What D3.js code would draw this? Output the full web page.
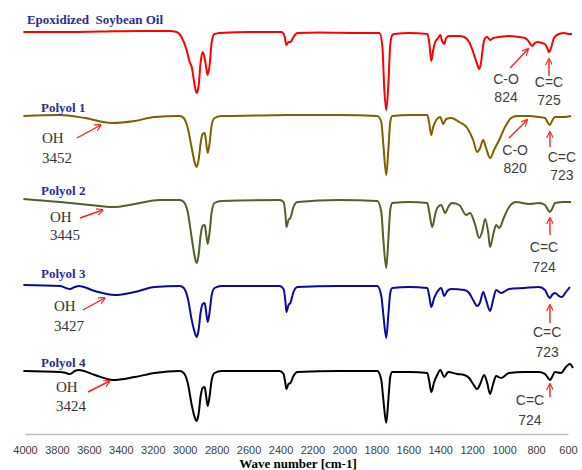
<!DOCTYPE html>
<meta charset="utf-8">
<style>
body { margin: 0; background: #fff; }
svg { display: block; }
.name { font: bold 13px "Liberation Serif", "Times New Roman", serif; fill: #2b2b9c; }
.oh { font: 15px "Liberation Serif", "Times New Roman", serif; fill: #333; }
.grp { font: 14px "Liberation Sans Narrow", "Liberation Sans", sans-serif; fill: #404040; }
.axis text { font: 11px "Liberation Sans", sans-serif; fill: #404040; }
.axis path { stroke: #bfbfbf; stroke-width: 1.3; }
.title { font: bold 13px "Liberation Serif", "Times New Roman", serif; fill: #000; }
.arrow { stroke: #ff2020; stroke-width: 1.4; fill: none; }
</style>
<svg width="582" height="470"></svg>
<script src="https://cdnjs.cloudflare.com/ajax/libs/d3/7.8.5/d3.min.js"></script>
<script>
// FTIR spectra, [wavenumber cm-1, relative transmittance]
var esoData = [[4010,99],[3780,99],[3530,99.5],[3280,100],[3095,100],[3050,99],[3020,94],[2988,81],[2969,69],[2956,64],
  [2938,46],[2925,38],[2913,45],[2900,69],[2888,79],[2875,73],[2863,61],[2856,56],[2844,66],[2831,89],[2813,97],[2781,98],
  [2594,99],[2394,99],[2375,95],[2363,86],[2350,89],[2338,89],[2319,94],[2294,98],[2156,98.5],[1906,98],[1781,98],
  [1763,86],[1750,41],[1738,21],[1725,46],[1713,86],[1700,96],[1688,97],[1594,98],[1481,97],[1469,89],[1456,70],
  [1444,81],[1431,89],[1413,93],[1400,96],[1388,90],[1375,87],[1363,93],[1344,95],[1281,95],[1250,94],[1219,89],
  [1194,79],[1169,67],[1156,62],[1144,69],[1131,86],[1119,93],[1106,94],[1088,91],[1069,93],[1031,94],[969,95],
  [906,94],[869,93],[844,89],[825,85],[813,87],[794,89],[763,88],[744,87],[725,81],[719,79],[706,83],[688,93],
  [656,97],[625,98],[594,97],[575,97]];

var polyol1Data = [[4010,98],[3780,99],[3625,96],[3456,91],[3313,93],[3188,97],[3031,98],[3006,96],[2981,86],[2956,66],
  [2938,52],[2925,47],[2913,54],[2900,71],[2888,80],[2875,81],[2869,76],[2856,61],[2844,71],[2831,89],[2813,96],
  [2769,98],[2531,98.5],[2363,99],[2031,99],[1794,98],[1769,92],[1756,69],[1738,39],[1725,64],[1713,92],[1700,98],
  [1594,99],[1481,99],[1469,91],[1456,79],[1444,87],[1425,94],[1400,97],[1381,90],[1363,95],[1331,96],[1281,92],
  [1231,86],[1194,74],[1169,62],[1150,66],[1131,74],[1113,66],[1088,56],[1063,64],[1031,74],[994,87],[956,96],
  [919,98],[844,98],[781,97],[744,96],[725,91],[713,89],[700,93],[681,97],[625,97],[581,98]];

var polyol2Data = [[4010,100],[3780,97],[3594,94],[3450,92],[3313,95],[3156,99],[3031,99],[3006,97],[2981,87],[2956,61],
  [2938,43],[2925,36],[2913,44],[2900,64],[2888,73],[2875,74],[2869,69],[2856,55],[2844,67],[2831,87],[2813,96],
  [2769,98],[2406,99],[2381,97],[2369,84],[2363,72],[2350,79],[2338,81],[2319,92],[2294,97],[2031,99],[1794,98],
  [1769,87],[1756,59],[1738,31],[1725,59],[1713,89],[1700,96],[1594,97],[1481,96],[1469,87],[1450,72],[1431,85],
  [1419,91],[1394,94],[1369,86],[1350,92],[1325,96],[1281,94],[1238,84],[1213,86],[1181,74],[1156,61],[1138,67],
  [1119,80],[1100,67],[1088,52],[1069,64],[1050,74],[1031,71],[1000,82],[969,92],[925,97],[844,95],[781,96],
  [744,94],[725,89],[713,87],[700,90],[681,96],[625,97],[581,97]];

var polyol3Data = [[4010,99],[3780,98],[3744,96],[3719,95],[3688,97],[3663,98],[3563,93],[3438,89],[3313,92],[3188,97],
  [3031,98],[3006,96],[2981,86],[2956,64],[2938,52],[2925,47],[2913,54],[2900,72],[2888,80],[2875,81],[2869,76],
  [2856,62],[2844,72],[2831,89],[2813,96],[2769,98],[2406,98],[2381,95],[2369,82],[2363,72],[2350,79],[2338,81],
  [2319,92],[2294,97],[2031,98],[1794,98],[1769,88],[1756,69],[1738,46],[1725,69],[1713,91],[1700,96],[1594,97],
  [1481,96],[1469,88],[1456,77],[1438,86],[1419,92],[1394,96],[1375,88],[1356,93],[1331,95],[1250,94],[1219,91],
  [1194,84],[1169,78],[1150,82],[1131,92],[1113,84],[1088,73],[1069,84],[1050,94],[1019,91],[969,95],[875,96],
  [781,97],[744,94],[725,88],[713,86],[700,89],[681,91],[656,88],[638,87],[613,92],[588,97]];

var polyol4Data = [[4010,98],[3780,97],[3744,96],[3719,95],[3688,98],[3663,99],[3563,94],[3450,89],[3313,92],[3188,96],
  [3031,98],[3006,96],[2981,86],[2956,64],[2938,52],[2925,48],[2913,55],[2900,73],[2888,81],[2875,82],[2869,77],
  [2856,63],[2844,73],[2831,89],[2813,96],[2769,98],[2406,98],[2381,95],[2369,85],[2363,80],[2350,85],[2338,86],
  [2319,93],[2294,97],[2031,98],[1794,98],[1769,89],[1756,69],[1738,46],[1725,69],[1713,92],[1700,97],[1594,97],
  [1481,96],[1469,88],[1456,77],[1438,87],[1419,94],[1400,99],[1375,92],[1350,97],[1294,95],[1250,94],[1219,91],
  [1194,85],[1169,80],[1150,85],[1125,94],[1106,86],[1088,75],[1069,85],[1050,93],[1019,91],[969,96],[875,97],
  [781,97],[744,95],[725,91],[713,89],[700,92],[681,97],[644,96],[613,102],[588,105],[569,101]];

var seriesNames = ["Epoxidized  Soybean Oil", "Polyol 1", "Polyol 2", "Polyol 3", "Polyol 4"];
var seriesData = [esoData, polyol1Data, polyol2Data, polyol3Data, polyol4Data];
var seriesColors = ["#ff0000", "#7f6000", "#4f6228", "#0a0aa0", "#000000"];
var xTicks = [4000,3800,3600,3400,3200,3000,2800,2600,2400,2200,2000,1800,1600,1400,1200,1000,800,600];

// annotations: series index, text lines, text anchor point (wn, T), arrow tail and tip (wn, T)
var ohNotes = [
  {s:1, lines:["OH","3452"], wn:3894, t:[71,51], from:[3675,76], to:[3525,89]},
  {s:2, lines:["OH","3445"], wn:3844, t:[77,59], from:[3656,81], to:[3513,89]},
  {s:3, lines:["OH","3427"], wn:3819, t:[73,53], from:[3638,74], to:[3500,86]},
  {s:4, lines:["OH","3424"], wn:3806, t:[77,58], from:[3606,77], to:[3469,88]}
];
var groupNotes = [
  {s:0, lines:["C-O","824"], wn:988, t:[47,29], from:[962,63], to:[850,82]},
  {s:0, lines:["C=C","725"], wn:719, t:[44,26], from:[719,55], to:[719,72]},
  {s:1, lines:["C-O","820"], wn:931, t:[59,41], from:[969,76], to:[856,94]},
  {s:1, lines:["C=C","723"], wn:638, t:[52,34], from:[713,67], to:[713,82]},
  {s:2, lines:["C=C","724"], wn:750, t:[47,27], from:[713,64], to:[713,81]},
  {s:3, lines:["C=C","723"], wn:731, t:[47,27], from:[713,61], to:[713,79]},
  {s:4, lines:["C=C","724"], wn:838, t:[64,44], from:[713,72], to:[713,85]}
];

var svg = d3.select("svg");
var bandTop = [31, 114, 199, 284, 369];
var x = d3.scaleLinear().domain([4000, 600]).range([25, 568]);
var ys = bandTop.map(function(b) { return d3.scaleLinear().domain([0, 100]).range([b + 100, b]); });

svg.append("defs").append("marker")
    .attr("id", "head").attr("viewBox", "0 0 10 10")
    .attr("refX", 9).attr("refY", 5)
    .attr("markerWidth", 7).attr("markerHeight", 7)
    .attr("markerUnits", "userSpaceOnUse")
    .attr("orient", "auto")
  .append("path").attr("d", "M0,0L10,5L0,10")
    .attr("fill", "none").attr("stroke", "#ff2020").attr("stroke-width", 1.6);

// x axis
svg.append("g")
    .attr("class", "axis")
    .attr("transform", "translate(0,434)")
    .call(d3.axisBottom(x).tickValues(xTicks).tickSize(0).tickPadding(12).tickFormat(d3.format("d")))
    .selectAll(".tick line").remove();

svg.append("text").attr("class", "title")
    .attr("x", 298).attr("y", 468).attr("text-anchor", "middle")
    .text("Wave number [cm-1]");

// spectra
seriesData.forEach(function(data, i) {
  var line = d3.line()
      .x(function(d) { return x(d[0]); })
      .y(function(d) { return ys[i](d[1]); })
      .curve(d3.curveMonotoneX);
  svg.append("path").datum(data)
      .attr("d", line)
      .attr("fill", "none")
      .attr("stroke", seriesColors[i])
      .attr("stroke-width", 2)
      .attr("stroke-linejoin", "round");
});

// series names
var nameAt = [[3988,107],[3900,102],[3900,104],[3900,106],[3900,102]];
seriesNames.forEach(function(n, i) {
  svg.append("text").attr("class", "name")
      .attr("x", x(nameAt[i][0])).attr("y", ys[i](nameAt[i][1]))
      .style("white-space", "pre")
      .text(n);
});

function drawNotes(notes, cls, anchor) {
  notes.forEach(function(a) {
    var y = ys[a.s];
    a.lines.forEach(function(l, k) {
      svg.append("text").attr("class", cls)
          .attr("x", x(a.wn)).attr("y", y(a.t[k]))
          .attr("text-anchor", anchor)
          .text(l);
    });
    svg.append("line").attr("class", "arrow")
        .attr("x1", x(a.from[0])).attr("y1", y(a.from[1]))
        .attr("x2", x(a.to[0])).attr("y2", y(a.to[1]))
        .attr("marker-end", "url(#head)");
  });
}
drawNotes(ohNotes, "oh", "start");
drawNotes(groupNotes, "grp", "middle");
</script>
